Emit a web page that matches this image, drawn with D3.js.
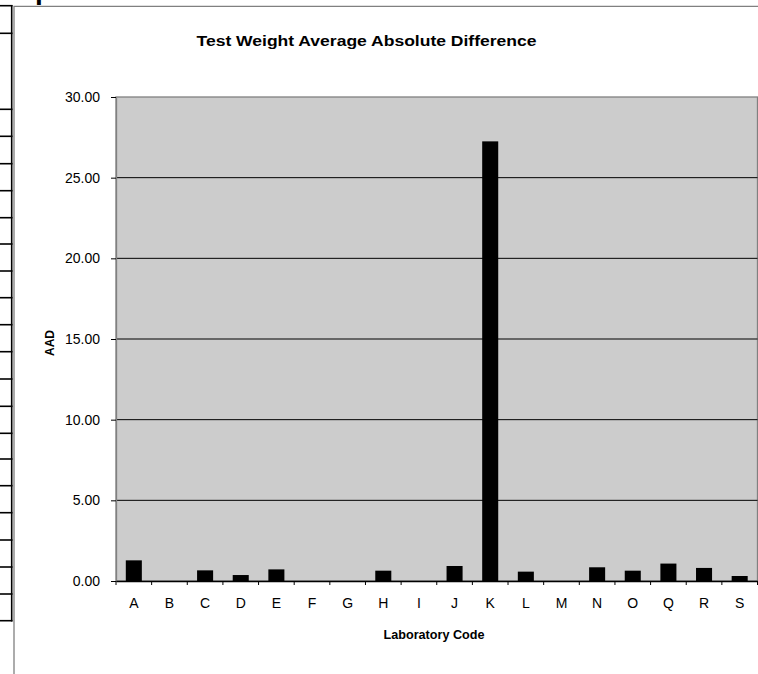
<!DOCTYPE html>
<html>
<head>
<meta charset="utf-8">
<script src="https://cdn.jsdelivr.net/npm/d3@7"></script>
<style>
  html, body { margin: 0; padding: 0; background: #ffffff; }
  svg { display: block; font-family: Arial, "Liberation Sans", sans-serif; }
</style>
</head>
<body>
<svg id="chart" width="758" height="674"></svg>
<script>
// ---- data ----
const categories = ["A","B","C","D","E","F","G","H","I","J","K","L","M","N","O","Q","R","S"];
const aadValues = [1.28, null, 0.66, 0.37, 0.72, null, null, 0.64, null, 0.93, 27.25, 0.58, null, 0.85, 0.64, 1.08, 0.81, 0.31];
const yTickValues = [0, 5, 10, 15, 20, 25, 30];
const chartTitle = "Test Weight Average Absolute Difference";
const xAxisTitle = "Laboratory Code";
const yAxisTitle = "AAD";

// ---- layout ----
const W = 758, H = 674;
const plot = { left: 116, right: 757.5, top: 97, bottom: 581 };
const FONT = "Arial, 'Liberation Sans', sans-serif";

const svg = d3.select("#chart");

// left decorative spreadsheet rules (outside the chart object)
const ruleYs = [5.7, 33.3, 109.3, 136.3, 163.7, 190.7, 217.7, 244, 271, 297.7, 324.7,
  351.7, 379, 406.3, 433.3, 459, 485.7, 512.7, 540, 567, 594, 620.7];
const deco = svg.append("g");
deco.selectAll("line.rule").data(ruleYs).enter().append("line")
  .attr("x1", 0).attr("x2", 12.5).attr("y1", d => d).attr("y2", d => d)
  .attr("stroke", "#000").attr("stroke-width", 1.6);
deco.append("line").attr("x1", 11.7).attr("x2", 11.7).attr("y1", 5).attr("y2", 621.5)
  .attr("stroke", "#000").attr("stroke-width", 1.6);
// cut-off heading glyph at top
deco.append("text").attr("x", 35).attr("y", -1)
  .attr("font-size", 28).attr("font-weight", "bold").attr("fill", "#000").text("p");

// chart frame
svg.append("path")
  .attr("d", `M14,674 L14,6.3 L758,6.3`)
  .attr("fill", "none").attr("stroke", "#808080").attr("stroke-width", 1.3);

// scales
const x = d3.scaleBand().domain(categories).range([plot.left, plot.right]).padding(0);
const y = d3.scaleLinear().domain([0, 30]).range([plot.bottom, plot.top]);

// plot area
svg.append("rect")
  .attr("x", plot.left).attr("y", plot.top)
  .attr("width", plot.right - plot.left).attr("height", plot.bottom - plot.top)
  .attr("fill", "#cccccc").attr("stroke", "#808080").attr("stroke-width", 1.3);

// gridlines
svg.append("g").selectAll("line").data(yTickValues.filter(v => v > 0 && v < 30)).enter()
  .append("line")
  .attr("x1", plot.left).attr("x2", plot.right)
  .attr("y1", d => y(d)).attr("y2", d => y(d))
  .attr("stroke", "#000").attr("stroke-width", 1);

// bars
const barW = x.bandwidth() * 0.45;
const data = categories.map((c, i) => ({ c, v: aadValues[i] })).filter(d => d.v != null);
svg.append("g").selectAll("rect").data(data).enter().append("rect")
  .attr("x", d => x(d.c) + (x.bandwidth() - barW) / 2)
  .attr("y", d => y(d.v))
  .attr("width", barW)
  .attr("height", d => y(0) - y(d.v))
  .attr("fill", "#000");

// y axis
const yAxis = d3.axisLeft(y).tickValues(yTickValues).tickFormat(d3.format(".2f"))
  .tickSizeInner(5).tickSizeOuter(0).tickPadding(11);
const gy = svg.append("g").attr("transform", `translate(${plot.left},0)`).call(yAxis);
gy.select(".domain").attr("stroke", "#808080").attr("stroke-width", 1.3);
gy.selectAll(".tick line").attr("stroke", "#000");
gy.selectAll(".tick text").attr("font-size", 14).attr("fill", "#000")
  .attr("font-family", FONT);

// x axis
const xAxis = d3.axisBottom(x).tickSize(0).tickPadding(17);
const gx = svg.append("g").attr("transform", `translate(0,${plot.bottom})`).call(xAxis);
gx.select(".domain").attr("stroke", "#000").attr("stroke-width", 1.3);
gx.selectAll(".tick text").attr("font-size", 14).attr("fill", "#000")
  .attr("font-family", FONT);
// category boundary ticks
const boundaries = categories.map(c => x(c)).concat([plot.right]);
gx.append("g").selectAll("line").data(boundaries).enter().append("line")
  .attr("x1", d => d).attr("x2", d => d).attr("y1", 0).attr("y2", 4)
  .attr("stroke", "#000").attr("stroke-width", 1);

// titles
svg.append("text").attr("x", 366.5).attr("y", 46)
  .attr("text-anchor", "middle").attr("font-size", 14).attr("font-weight", "bold")
  .attr("textLength", 340).attr("lengthAdjust", "spacingAndGlyphs")
  .text(chartTitle);
svg.append("text").attr("x", 434).attr("y", 639)
  .attr("text-anchor", "middle").attr("font-size", 12.5).attr("font-weight", "bold")
  .attr("textLength", 101).attr("lengthAdjust", "spacingAndGlyphs")
  .text(xAxisTitle);
svg.append("text")
  .attr("transform", `translate(53.5,343) rotate(-90)`)
  .attr("text-anchor", "middle").attr("font-size", 12).attr("font-weight", "bold")
  .text(yAxisTitle);
</script>
</body>
</html>
